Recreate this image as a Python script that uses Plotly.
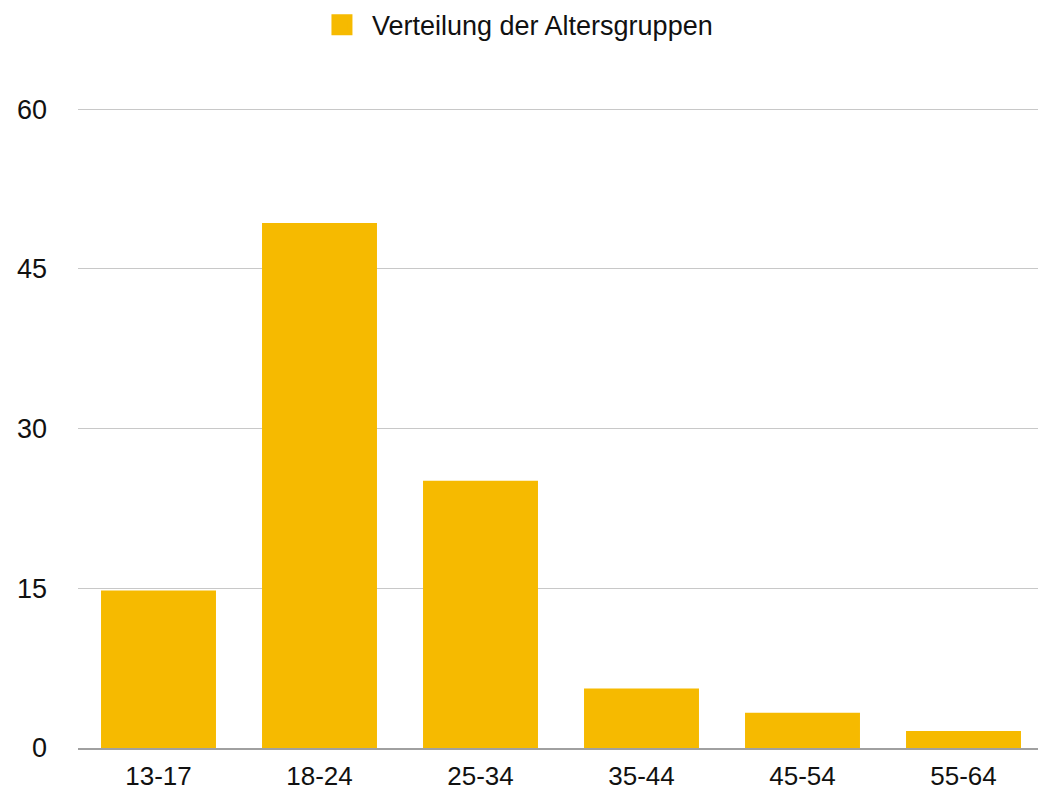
import plotly.graph_objects as go

# Altersgruppen und Anteile
age_groups = ["13-17", "18-24", "25-34", "35-44", "45-54", "55-64"]
shares = [14.8, 49.3, 25.1, 5.6, 3.3, 1.6]
y_ticks = [0, 15, 30, 45, 60]
series_name = "Verteilung der Altersgruppen"

bar_color = "#F6BA00"
font_family = "Liberation Sans, Arial, sans-serif"

fig = go.Figure()

fig.add_trace(go.Bar(
    x=age_groups,
    y=shares,
    marker=dict(color=bar_color, line=dict(width=0)),
    showlegend=False,
    name=series_name,
))

# legend entry with a bigger square than the bar legend symbol
fig.add_trace(go.Scatter(
    x=[None], y=[None],
    mode="markers",
    marker=dict(symbol="square", size=16, color=bar_color,
                line=dict(color=bar_color, width=5)),
    name=series_name,
    showlegend=True,
))

# page body has an 8px margin, so the figure is 8px smaller than the window
# range slightly above 60 so the top gridline is drawn
fig.update_layout(
    width=1038,
    height=783,
    margin=dict(l=70, r=2, t=98, b=43),
    paper_bgcolor="white",
    plot_bgcolor="white",
    font=dict(family=font_family, size=27, color="#111111"),
    bargap=0.286,
    legend=dict(
        orientation="h",
        xref="container", yref="container",
        x=0.4884, xanchor="center",
        y=0.978, yanchor="middle",
        font=dict(size=27, color="#111111"),
        itemwidth=50,
        bgcolor="rgba(0,0,0,0)",
    ),
    xaxis=dict(
        showgrid=False,
        showline=True,
        linecolor="#A0A0A0",
        linewidth=2,
        ticks="",
        ticklabelstandoff=4,
        automargin=False,
        tickfont=dict(size=26),
    ),
    yaxis=dict(
        range=[0, 60.3],
        tickvals=y_ticks,
        showgrid=True,
        gridcolor="#C8C8C8",
        gridwidth=1,
        zeroline=False,
        showline=False,
        ticks="",
        ticklabelstandoff=30,
        automargin=False,
        tickfont=dict(size=27),
    ),
)

fig.write_html("out.html")
